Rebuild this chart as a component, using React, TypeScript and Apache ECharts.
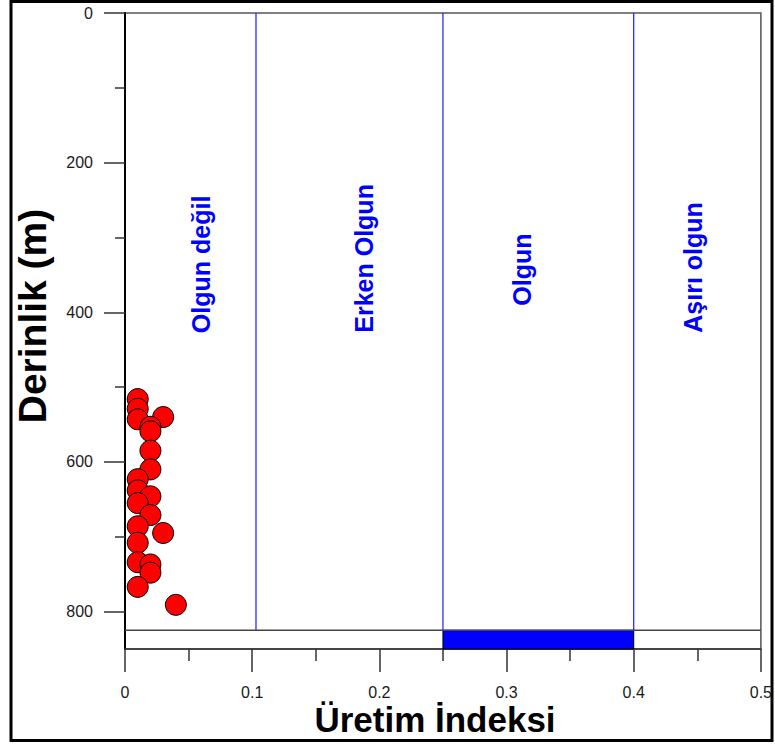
import React, { useEffect, useRef } from "react";
import * as echarts from "echarts";

// Production index (x) against depth in metres (y) for each sample
const productionIndex = [
  0.01, 0.01, 0.01, 0.03, 0.02, 0.02, 0.02, 0.02, 0.01, 0.01, 0.02,
  0.01, 0.02, 0.01, 0.03, 0.01, 0.01, 0.02, 0.02, 0.01, 0.04,
];
const depthM = [
  516, 529, 543, 540, 553, 559, 585, 610, 623, 638, 646,
  655, 671, 686, 695, 708, 734, 737, 748, 767, 791,
];

// Maturity zone boundaries along the production index axis
const zoneBoundaries = [0.103, 0.25, 0.4];
const zoneNames = ["Olgun değil", "Erken Olgun", "Olgun", "Aşırı olgun"];
const zoneLabelX = [0.06, 0.188, 0.312, 0.447];
const zoneLabelDepth = [336, 328, 343, 340];

// Depth of the reference line and the highlighted window beneath it
const baseLineDepth = 825;
const windowStart = 0.25;
const windowEnd = 0.4;

// Axis ranges and ticks
const depthMax = 850;
const depthMajorTicks = [0, 200, 400, 600, 800];
const depthMinorTicks = [100, 300, 500, 700];
const indexMax = 0.5;
const indexMajorTicks = [0, 0.1, 0.2, 0.3, 0.4, 0.5];
const indexMinorTicks = [0.05, 0.15, 0.25, 0.35, 0.45];

const FONT = "Arial, 'Liberation Sans', sans-serif";
const TICK = { color: "#333333", width: 1.5 };

export default function App() {
  const ref = useRef<HTMLDivElement>(null);

  useEffect(() => {
    if (!ref.current) return;
    const chart = echarts.init(ref.current, null, { renderer: "svg" });

    const points = productionIndex.map((x, i) => [x, depthM[i]]);
    const zoneLabels = zoneNames.map((name, i) => ({
      value: [zoneLabelX[i], zoneLabelDepth[i]],
      name,
    }));

    // each zone boundary is a two-point vertical line
    const boundarySeries = zoneBoundaries.map((b) => ({
      type: "line",
      data: [
        [b, 0],
        [b, baseLineDepth],
      ],
      showSymbol: false,
      silent: true,
      z: 1,
      lineStyle: { color: "#1a1aff", width: 1.2, opacity: 1 },
    }));

    chart.setOption({
      animation: false,
      backgroundColor: "#ffffff",
      grid: {
        left: 125,
        top: 13,
        right: 13,
        bottom: 98,
        show: true,
        borderColor: "#555555",
        borderWidth: 1.5,
        backgroundColor: "transparent",
      },
      xAxis: [
        {
          type: "value",
          min: 0,
          max: indexMax,
          position: "bottom",
          axisLine: { show: true, onZero: false, lineStyle: { color: "#333333", width: 1.5 } },
          axisTick: { show: true, length: 23, customValues: indexMajorTicks, lineStyle: TICK },
          axisLabel: {
            show: true,
            margin: 35,
            fontSize: 16,
            color: "#1a1a1a",
            fontFamily: FONT,
            customValues: indexMajorTicks,
            formatter: (v: number) => String(Math.round(v * 10) / 10),
          },
          splitLine: { show: false },
        },
        {
          type: "value",
          min: 0,
          max: indexMax,
          position: "bottom",
          axisLine: { show: false, onZero: false },
          axisTick: { show: true, length: 12, customValues: indexMinorTicks, lineStyle: TICK },
          axisLabel: { show: false },
          splitLine: { show: false },
        },
      ],
      yAxis: [
        {
          type: "value",
          inverse: true,
          min: 0,
          max: depthMax,
          position: "left",
          axisLine: { show: true, onZero: false, lineStyle: { color: "#000000", width: 2 } },
          axisTick: { show: true, length: 21, customValues: depthMajorTicks, lineStyle: TICK },
          axisLabel: {
            margin: 32,
            fontSize: 16,
            color: "#1a1a1a",
            fontFamily: FONT,
            customValues: depthMajorTicks,
          },
          splitLine: { show: false },
        },
        {
          type: "value",
          inverse: true,
          min: 0,
          max: depthMax,
          position: "left",
          axisLine: { show: false, onZero: false },
          axisTick: { show: true, length: 10, customValues: depthMinorTicks, lineStyle: TICK },
          axisLabel: { show: false },
          splitLine: { show: false },
        },
      ],
      graphic: [
        {
          type: "rect",
          shape: { x: 11, y: 1.5, width: 761, height: 739 },
          style: { fill: "none", stroke: "#000000", lineWidth: 3 },
          silent: true,
        },
        {
          type: "text",
          x: 32,
          y: 316,
          rotation: Math.PI / 2,
          style: {
            text: "Derinlik (m)",
            font: `bold 39px ${FONT}`,
            fill: "#000000",
            align: "center",
            verticalAlign: "middle",
          },
        },
        {
          type: "text",
          x: 435,
          y: 719,
          style: {
            text: "Üretim İndeksi",
            font: `bold 35px ${FONT}`,
            fill: "#000000",
            align: "center",
            verticalAlign: "middle",
          },
        },
      ],
      series: [
        ...boundarySeries,
        {
          // reference depth line
          type: "line",
          data: [
            [0, baseLineDepth],
            [indexMax, baseLineDepth],
          ],
          showSymbol: false,
          silent: true,
          z: 1,
          lineStyle: { color: "#444444", width: 1.5, opacity: 1 },
        },
        {
          // highlighted window below the reference line
          type: "line",
          data: [],
          silent: true,
          markArea: {
            silent: true,
            itemStyle: { color: "#0000ff", opacity: 1, borderColor: "#000000", borderWidth: 1 },
            data: [[{ coord: [windowStart, baseLineDepth] }, { coord: [windowEnd, depthMax] }]],
          },
        },
        {
          type: "scatter",
          data: zoneLabels,
          symbolSize: 0,
          silent: true,
          itemStyle: { opacity: 1 },
          label: {
            show: true,
            position: "inside",
            rotate: 90,
            formatter: (p: any) => p.name,
            color: "#0000ff",
            fontSize: 25,
            fontWeight: "bold",
            fontFamily: FONT,
          },
        },
        {
          type: "scatter",
          data: points,
          symbol: "circle",
          symbolSize: 21,
          z: 5,
          itemStyle: { color: "#ff0000", opacity: 1, borderColor: "#000000", borderWidth: 1 },
        },
      ],
    });

    return () => chart.dispose();
  }, []);

  return (
    <div
      ref={ref}
      style={{ position: "absolute", left: 0, top: 0, width: 775, height: 747 }}
    />
  );
}
